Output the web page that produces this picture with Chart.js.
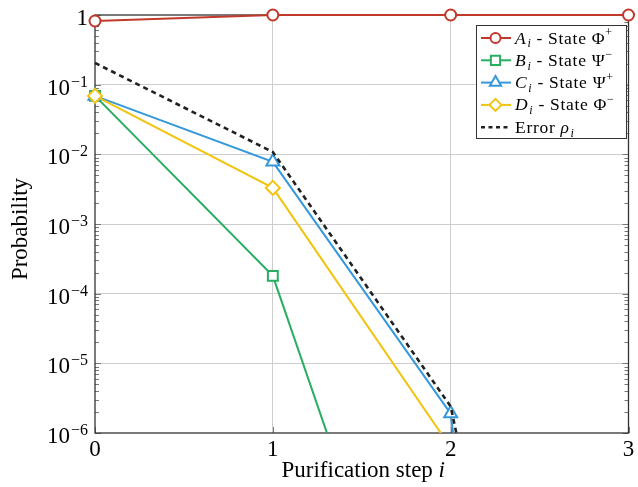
<!DOCTYPE html>
<html>
<head>
<meta charset="utf-8">
<script src="https://cdn.jsdelivr.net/npm/chart.js@4.4.1/dist/chart.umd.min.js"></script>
<style>
  html, body { margin: 0; padding: 0; background: #ffffff; }
  #wrap { width: 638px; height: 487px; position: relative; }
</style>
</head>
<body>
<div id="wrap"><canvas id="c" width="638" height="487"></canvas></div>
<script>
// ---- data ----
const steps = [0, 1, 2, 3];
const probA = [0.82, 1, 1, 1];                 // A_i - State Φ+
const probB = [0.069, 1.8e-4, 7e-12, 1e-20];   // B_i - State Ψ−
const probC = [0.069, 7.8e-3, 1.9e-6, 1e-26];  // C_i - State Ψ+
const probD = [0.069, 3.3e-3, 6.2e-7, 1e-13];  // D_i - State Φ−
const errorRho = [0.205, 0.0108, 2.4e-6, 3e-18]; // Error ρ_i
const yTickValues = [1e-6, 1e-5, 1e-4, 1e-3, 1e-2, 1e-1, 1];
const yTickExponents = ['−6', '−5', '−4', '−3', '−2', '−1', null];
const xTickLabels = ['0', '1', '2', '3'];

const COL_A = '#c0392b', COL_B = '#27ae60', COL_C = '#3498db', COL_D = '#f1c40f', COL_E = '#222222';
const SERIF = '"Liberation Serif", "DejaVu Serif", serif';

function pts(arr) { return steps.map((s, i) => ({ x: s, y: arr[i] })); }

const legendItems = [
  { color: COL_A, style: 'circle', r: 5, dash: null, runs: [['A', 'i'], ['i', 'sub'], [' - State Φ', 'r'], ['+', 'sup']] },
  { color: COL_B, style: 'rect', r: 6.5, dash: null, runs: [['B', 'i'], ['i', 'sub'], [' - State Ψ', 'r'], ['−', 'sup']] },
  { color: COL_C, style: 'triangle', r: 6.5, dash: null, runs: [['C', 'i'], ['i', 'sub'], [' - State Ψ', 'r'], ['+', 'sup']] },
  { color: COL_D, style: 'rectRot', r: 6, dash: null, runs: [['D', 'i'], ['i', 'sub'], [' - State Φ', 'r'], ['−', 'sup']] },
  { color: COL_E, style: null, r: 0, dash: [4, 3.5], runs: [['Error ', 'r'], ['ρ', 'i'], ['i', 'sub']] }
];

function fontFor(k, size) {
  if (k === 'i') return 'italic ' + size + 'px ' + SERIF;
  if (k === 'r') return size + 'px ' + SERIF;
  if (k === 'sub') return 'italic ' + Math.round(size * 0.7) + 'px ' + SERIF;
  return Math.round(size * 0.7) + 'px ' + SERIF;
}
function drawRuns(ctx, runs, x, y, size) {
  ctx.textBaseline = 'alphabetic';
  ctx.textAlign = 'left';
  for (const [t, k] of runs) {
    let dy = 0;
    if (k === 'sub') dy = size * 0.22;
    else if (k === 'sup') dy = -size * 0.42;
    ctx.font = fontFor(k, size);
    ctx.fillText(t, x, y + dy);
    x += ctx.measureText(t).width + (k === 'i' ? 1 : 0);
  }
  return x;
}
function runsWidth(ctx, runs, size) {
  let w = 0;
  for (const [t, k] of runs) { ctx.font = fontFor(k, size); w += ctx.measureText(t).width + (k === 'i' ? 1 : 0); }
  return w;
}

const framePlugin = {
  id: 'frame',
  beforeDatasetsDraw(chart) {
    const { ctx, chartArea: a, scales } = chart;
    const ys = scales.y, xs = scales.x;
    ctx.save();
    ctx.strokeStyle = '#777';
    ctx.lineWidth = 1;
    for (let e = -6; e <= 0; e++) {
      for (let m = 1; m <= 9; m++) {
        const v = m * Math.pow(10, e);
        if (v > 1.0000001) continue;
        const py = Math.round(ys.getPixelForValue(v)) + 0.5;
        const len = m === 1 ? 6 : 4;
        ctx.beginPath();
        ctx.moveTo(a.left, py); ctx.lineTo(a.left + len, py);
        ctx.moveTo(a.right, py); ctx.lineTo(a.right - len, py);
        ctx.stroke();
      }
    }
    for (const s of steps) {
      const px = Math.round(xs.getPixelForValue(s)) + 0.5;
      ctx.beginPath();
      ctx.moveTo(px, a.bottom); ctx.lineTo(px, a.bottom - 6);
      ctx.moveTo(px, a.top); ctx.lineTo(px, a.top + 6);
      ctx.stroke();
    }
    ctx.strokeStyle = '#333';
    ctx.lineWidth = 1.3;
    ctx.strokeRect(a.left, a.top, a.right - a.left, a.bottom - a.top);
    ctx.restore();
  },
  afterDraw(chart) {
    const { ctx, chartArea: a, scales } = chart;
    const ys = scales.y;
    ctx.save();
    ctx.fillStyle = '#000';
    // y tick labels (10 with superscript exponent)
    yTickValues.forEach((v, i) => {
      const py = ys.getPixelForValue(v);
      const ex = yTickExponents[i];
      ctx.textBaseline = 'alphabetic';
      if (ex === null) {
        ctx.font = '23px ' + SERIF;
        ctx.textAlign = 'right';
        ctx.fillText('1', 88, py + 10);
      } else {
        ctx.font = '16px ' + SERIF;
        ctx.textAlign = 'left';
        const ew = ctx.measureText(ex).width;
        const ex0 = 88 - ew;
        ctx.fillText(ex, ex0, py + 2);
        ctx.font = '23px ' + SERIF;
        ctx.textAlign = 'right';
        ctx.fillText('10', ex0 - 1, py + 10);
      }
    });
    // x axis title
    const xr = [['Purification step ', 'r'], ['i', 'i']];
    const size = 23;
    const w = runsWidth(ctx, xr, size);
    drawRuns(ctx, xr, (a.left + a.right) / 2 - w / 2 + 2, 477, size);
    // y axis title
    ctx.save();
    ctx.translate(27, 229);
    ctx.rotate(-Math.PI / 2);
    ctx.font = '23px ' + SERIF;
    ctx.textAlign = 'center';
    ctx.textBaseline = 'alphabetic';
    ctx.fillText('Probability', 0, 0);
    ctx.restore();
    // legend
    const bx = 476.5, by = 25.5, bw = 150, bh = 113;
    ctx.fillStyle = '#fff';
    ctx.fillRect(bx, by, bw, bh);
    ctx.strokeStyle = '#333';
    ctx.lineWidth = 1;
    ctx.strokeRect(bx, by, bw, bh);
    legendItems.forEach((it, i) => {
      const cy = 38 + i * 22.3;
      ctx.save();
      ctx.strokeStyle = it.color;
      ctx.lineWidth = it.dash ? 2.5 : 2;
      if (it.dash) ctx.setLineDash(it.dash);
      ctx.beginPath();
      ctx.moveTo(481, cy); ctx.lineTo(511, cy);
      ctx.stroke();
      ctx.restore();
      if (it.style) {
        ctx.save();
        ctx.strokeStyle = it.color;
        ctx.fillStyle = '#fff';
        ctx.lineWidth = 2;
        Chart.helpers.drawPoint(ctx, { pointStyle: it.style, radius: it.r, rotation: 0, borderWidth: 2 }, 495.5, cy);
        ctx.restore();
      }
      ctx.fillStyle = '#000';
      ctx.save();
      try { ctx.letterSpacing = '0.7px'; } catch (e) {}
      drawRuns(ctx, it.runs, 515, cy + 5.5, 17.5);
      ctx.restore();
    });
    ctx.restore();
  }
};

const lowerClip = { left: false, top: false, right: false, bottom: 0 };

function ds(label, arr, color, style, order, extra) {
  return Object.assign({
    label, data: pts(arr), borderColor: color, backgroundColor: color,
    borderWidth: 2, pointStyle: style, pointRadius: 5.5, pointHoverRadius: 5.5,
    pointBorderWidth: 2, pointBackgroundColor: '#ffffff', pointBorderColor: color,
    tension: 0, fill: false, order, clip: lowerClip
  }, extra || {});
}

new Chart(document.getElementById('c'), {
  type: 'line',
  data: {
    datasets: [
      ds('Error ρi', errorRho, COL_E, false, 1, { borderDash: [5, 4], borderWidth: 2.6, pointRadius: 0 }),
      ds('Di - State Φ−', probD, COL_D, 'rectRot', 2, { pointRadius: 7 }),
      ds('Ci - State Ψ+', probC, COL_C, 'triangle', 3, { pointRadius: 7.5 }),
      ds('Bi - State Ψ−', probB, COL_B, 'rect', 4, { pointRadius: 7 }),
      ds('Ai - State Φ+', probA, COL_A, 'circle', 5, { clip: false })
    ]
  },
  options: {
    responsive: false,
    animation: false,
    events: [],
    layout: { padding: { left: 0, top: 15, right: 6, bottom: 0 } },
    plugins: { legend: { display: false }, tooltip: { enabled: false } },
    scales: {
      x: {
        type: 'linear', min: 0, max: 3,
        afterBuildTicks(scale) { scale.ticks = steps.map(v => ({ value: v })); },
        afterFit(scale) { scale.height = 54; scale.paddingLeft = 0; scale.paddingRight = 0; },
        ticks: {
          callback: (v, i) => xTickLabels[i],
          font: { family: SERIF, size: 23 }, color: '#000', padding: 3, maxRotation: 0
        },
        grid: {
          color: (c) => (c.tick && (c.tick.value === 0 || c.tick.value === 3)) ? 'rgba(0,0,0,0)' : '#cdcdcd',
          drawTicks: false, lineWidth: 1
        },
        border: { display: false }
      },
      y: {
        type: 'logarithmic', min: 1e-6, max: 1,
        afterBuildTicks(scale) { scale.ticks = yTickValues.map(v => ({ value: v })); },
        afterFit(scale) { scale.width = 95; scale.paddingTop = 0; scale.paddingBottom = 0; },
        ticks: { display: false, autoSkip: false },
        grid: {
          color: (c) => (c.tick && (c.tick.value === 1 || c.tick.value === 1e-6)) ? 'rgba(0,0,0,0)' : '#cdcdcd',
          drawTicks: false, lineWidth: 1
        },
        border: { display: false }
      }
    }
  },
  plugins: [framePlugin]
});
</script>
</body>
</html>
